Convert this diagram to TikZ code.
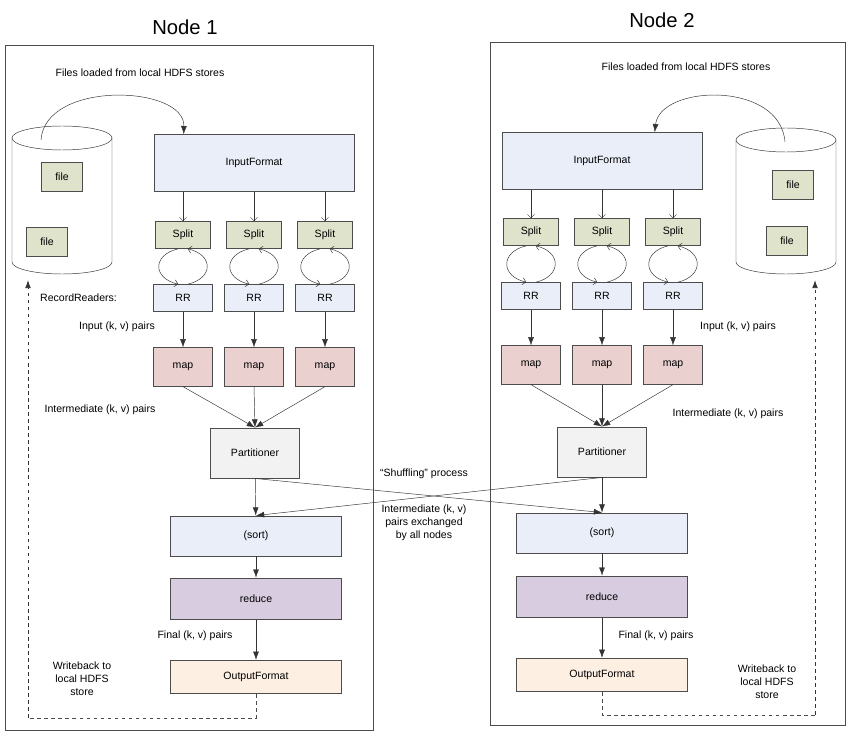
\documentclass[tikz,border=0pt]{standalone}
\usepackage{fontspec}
\setmainfont{Liberation Sans}
\usepackage{tikz}
\usetikzlibrary{arrows.meta}
\definecolor{inputblue}{HTML}{EAEEF8}
\definecolor{splitgreen}{HTML}{DFE3CC}
\definecolor{mappink}{HTML}{EBD0D0}
\definecolor{partgray}{HTML}{F2F2F2}
\definecolor{reducepurple}{HTML}{D8CCE0}
\definecolor{outorange}{HTML}{FDEFE2}
\newcommand{\storedrum}[3]{% center x, top y, bottom y
    \draw[black!80, fill=white] (#1-50,#2) -- (#1-50,#3) arc[start angle=180, end angle=360, x radius=50, y radius=-12] -- (#1+50,#2);
    \draw[black!80] (#1,#2) ellipse[x radius=50, y radius=12];
}
\begin{document}
\begin{tikzpicture}[x=0.03cm,y=-0.03cm]
        % Define styles
        \tikzset{
            box/.style={rectangle, draw=black!70, thick, font=\small, inner sep=0pt},
            filebox/.style={box, fill=splitgreen, minimum width=1.25cm, minimum height=0.85cm},
            label/.style={font=\small, align=center},
            arrow/.style={-{Latex[length=7pt,width=5pt]}, black!80},
            thinarrow/.style={-{Straight Barb[length=3pt]}, black!80},
            writeback/.style={dashed, thick, black!70}
        }
        \useasboundingbox (0,0) rectangle (850,735);

        % Frames
        \draw[black!70] (5,45) rectangle (373,730);
        \draw[black!70] (490,42) rectangle (845,725);
        \node[font=\LARGE] (title_1) at (185,27) {Node 1};
        \node[font=\LARGE] (title_2) at (662,20) {Node 2};

        % Node 1
        \node[label] (files_1) at (140,73) {Files loaded from local HDFS stores};
        \storedrum{62}{138}{262}
        \node[filebox] (file_1a) at (62,177) {file};
        \node[filebox] (file_1b) at (47,242) {file};
        \node[box, fill=inputblue, minimum width=6cm, minimum height=1.7cm] (input_1) at (254,163) {InputFormat};
        \foreach \i/\x in {a/183,b/254,c/325} {
            \node[box, fill=splitgreen, minimum width=1.65cm, minimum height=0.8cm] (split_1\i) at (\x,235) {Split};
            \node[box, fill=inputblue, minimum width=1.75cm, minimum height=0.8cm] (rr_1\i) at (\x,298) {RR};
            \node[box, fill=mappink, minimum width=1.75cm, minimum height=1.15cm] (map_1\i) at (\x,367) {map};
            \draw[thinarrow] (input_1.south -| split_1\i) -- (split_1\i);
            \draw[thinarrow] ([xshift=-4]split_1\i.south) .. controls +(-26,6) and +(-26,-6) .. ([xshift=-4]rr_1\i.north);
            \draw[thinarrow] ([xshift=4]rr_1\i.north) .. controls +(26,-6) and +(26,6) .. ([xshift=4]split_1\i.south);
            \draw[arrow] (rr_1\i) -- (map_1\i);
        }
        \node[label, anchor=west] (rrlabel_1) at (36,298) {RecordReaders:};
        \node[label] (inlabel_1) at (117,327) {Input (k, v) pairs};
        \node[label] (midlabel_1) at (100,410) {Intermediate (k, v) pairs};
        \node[box, fill=partgray, minimum width=2.65cm, minimum height=1.5cm] (part_1) at (255,453) {Partitioner};
        \node[box, fill=inputblue, minimum width=5.15cm, minimum height=1.2cm] (sort_1) at (256,536) {(sort)};
        \node[box, fill=reducepurple, minimum width=5.15cm, minimum height=1.25cm] (reduce_1) at (256,599) {reduce};
        \node[box, fill=outorange, minimum width=5.15cm, minimum height=1cm] (out_1) at (256,677) {OutputFormat};
        \node[label] (finlabel_1) at (195,636) {Final (k, v) pairs};
        \node[label] (wblabel_1) at (82,679) {Writeback to\\local HDFS\\store};
        \coordinate (wb_1a) at (256,718);
        \coordinate (wb_1b) at (28,718);
        \draw[arrow] (41,140) .. controls (45,80) and (185,85) .. ([xshift=-60]input_1.north);
        \foreach \i in {a,b,c} \draw[arrow] (map_1\i.south) -- (part_1.north);
        \draw[arrow] (part_1) -- (sort_1);
        \draw[arrow] (sort_1) -- (reduce_1);
        \draw[arrow] (reduce_1) -- (out_1);
        \draw[writeback] (out_1.south) -- (wb_1a) -- (wb_1b);
        \draw[writeback, arrow, dashed] (wb_1b) -- (28,280);

        % Node 2
        \node[label] (files_2) at (686,67) {Files loaded from local HDFS stores};
        \storedrum{786}{140}{262}
        \node[filebox] (file_2a) at (793,185) {file};
        \node[filebox] (file_2b) at (787,241) {file};
        \node[box, fill=inputblue, minimum width=6cm, minimum height=1.7cm] (input_2) at (602,161) {InputFormat};
        \foreach \i/\x in {a/531,b/602,c/673} {
            \node[box, fill=splitgreen, minimum width=1.65cm, minimum height=0.8cm] (split_2\i) at (\x,232) {Split};
            \node[box, fill=inputblue, minimum width=1.75cm, minimum height=0.8cm] (rr_2\i) at (\x,296) {RR};
            \node[box, fill=mappink, minimum width=1.75cm, minimum height=1.15cm] (map_2\i) at (\x,365) {map};
            \draw[thinarrow] (input_2.south -| split_2\i) -- (split_2\i);
            \draw[thinarrow] ([xshift=-4]split_2\i.south) .. controls +(-26,6) and +(-26,-6) .. ([xshift=-4]rr_2\i.north);
            \draw[thinarrow] ([xshift=4]rr_2\i.north) .. controls +(26,-6) and +(26,6) .. ([xshift=4]split_2\i.south);
            \draw[arrow] (rr_2\i) -- (map_2\i);
        }
        \node[label] (inlabel_2) at (738,327) {Input (k, v) pairs};
        \node[label] (midlabel_2) at (728,414) {Intermediate (k, v) pairs};
        \node[box, fill=partgray, minimum width=2.65cm, minimum height=1.5cm] (part_2) at (602,452) {Partitioner};
        \node[box, fill=inputblue, minimum width=5.15cm, minimum height=1.2cm] (sort_2) at (602,533) {(sort)};
        \node[box, fill=reducepurple, minimum width=5.15cm, minimum height=1.25cm] (reduce_2) at (602,597) {reduce};
        \node[box, fill=outorange, minimum width=5.15cm, minimum height=1cm] (out_2) at (602,675) {OutputFormat};
        \node[label] (finlabel_2) at (656,636) {Final (k, v) pairs};
        \node[label] (wblabel_2) at (767,682) {Writeback to\\local HDFS\\store};
        \coordinate (wb_2a) at (602,715);
        \coordinate (wb_2b) at (815,715);
        \draw[arrow] (785,142) .. controls (780,80) and (660,85) .. ([xshift=45]input_2.north);
        \foreach \i in {a,b,c} \draw[arrow] (map_2\i.south) -- (part_2.north);
        \draw[arrow] (part_2) -- (sort_2);
        \draw[arrow] (sort_2) -- (reduce_2);
        \draw[arrow] (reduce_2) -- (out_2);
        \draw[writeback] (out_2.south) -- (wb_2a) -- (wb_2b);
        \draw[writeback, arrow, dashed] (wb_2b) -- (815,280);

        % Shuffle
        \draw[arrow] (part_1.south) -- (sort_2.north);
        \draw[arrow] (part_2.south) -- (sort_1.north);
        \node[label] (shuffle) at (424,474) {``Shuffling'' process};
        \node[label] (exchange) at (424,523) {Intermediate (k, v)\\pairs exchanged\\by all nodes};
    \end{tikzpicture}
\end{document}
